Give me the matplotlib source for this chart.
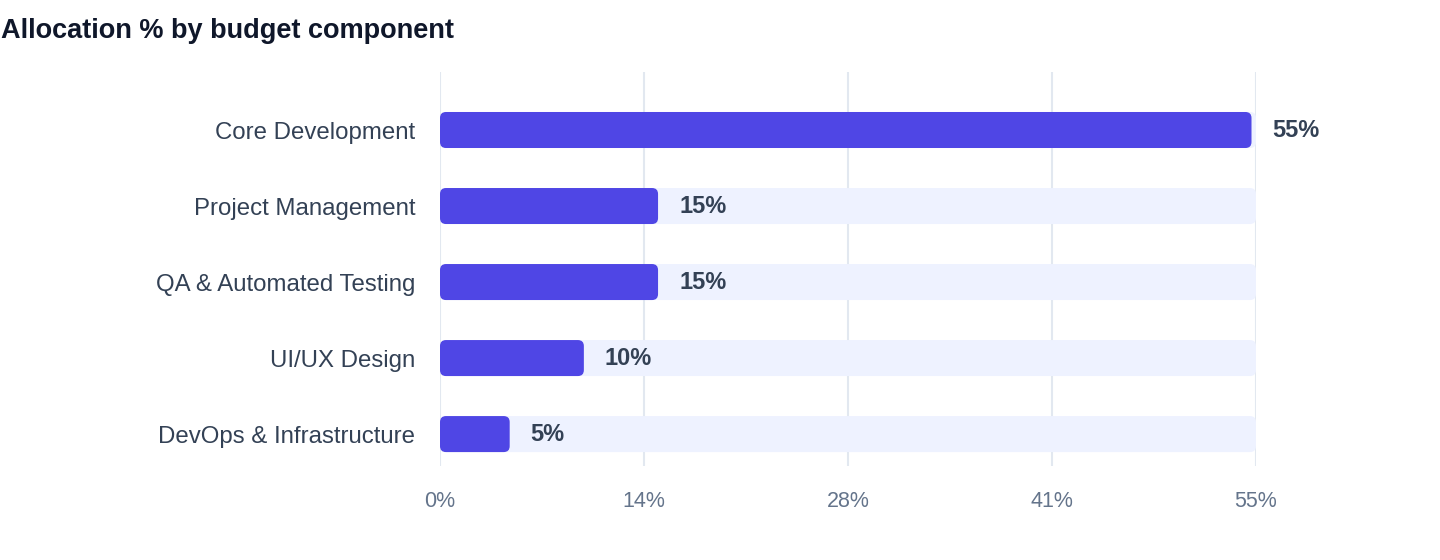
import matplotlib.pyplot as plt
from matplotlib.patches import FancyBboxPatch

plt.rcParams['font.family'] = ['Liberation Sans', 'DejaVu Sans']

categories = ["Core Development", "Project Management", "QA & Automated Testing",
              "UI/UX Design", "DevOps & Infrastructure"]
values = [55, 15, 15, 10, 5]
x_max = 55
x_ticks = [0, 13.75, 27.5, 41.25, 55]

BAR = "#4F46E5"
TRACK = "#EEF2FF"
GRID = "#E2E8F0"
LABEL = "#334155"
TICK = "#64748B"
TITLE = "#0F172A"

fig = plt.figure(figsize=(14.4, 5.6), dpi=100)
ax = fig.add_axes([440 / 1440, 1 - 466 / 560, 816 / 1440, 394 / 560])

ax.set_xlim(0, x_max)
ax.set_ylim(len(categories) - 1 + 0.42, -0.763)

# pixel -> data conversion for rounded corners
x_per_px = x_max / 816
y_per_px = 1 / 76
bar_h = 36 / 76
radius = 6 * x_per_px
aspect = y_per_px / x_per_px
inset = 4.5 * x_per_px  # filled bar stops a few px short of its value

for i, v in enumerate(values):
    track = FancyBboxPatch((0, i - bar_h / 2), x_max, bar_h,
                           boxstyle=f"round,pad=0,rounding_size={radius}",
                           mutation_aspect=aspect, fc=TRACK, ec="none", zorder=2)
    ax.add_patch(track)
    bar = FancyBboxPatch((0, i - bar_h / 2), v - inset, bar_h,
                         boxstyle=f"round,pad=0,rounding_size={radius}",
                         mutation_aspect=aspect, fc=BAR, ec="none", zorder=3)
    ax.add_patch(bar)
    ax.text(v - inset + 21 * x_per_px, i, f"{v}%", va="center", ha="left",
            fontsize=17, fontweight="bold", color=LABEL, clip_on=False, zorder=4)

ax.set_xticks(x_ticks)
ax.set_xticklabels([f"{t:.0f}%" for t in x_ticks])
ax.set_yticks(range(len(categories)))
ax.set_yticklabels(categories)
ax.grid(axis="x", color=GRID, linewidth=1.5, zorder=0)
ax.set_axisbelow(True)
for s in ax.spines.values():
    s.set_visible(False)
ax.tick_params(axis="x", length=0, pad=18, labelsize=15.5, labelcolor=TICK)
ax.tick_params(axis="y", length=0, pad=18, labelsize=17.3, labelcolor=LABEL)

fig.text(0.0005, 1 - 31 / 560, "Allocation % by budget component", ha="left", va="center",
         fontsize=19.5, fontweight="bold", color=TITLE)

fig.savefig("out.png", dpi=100, facecolor="white")
